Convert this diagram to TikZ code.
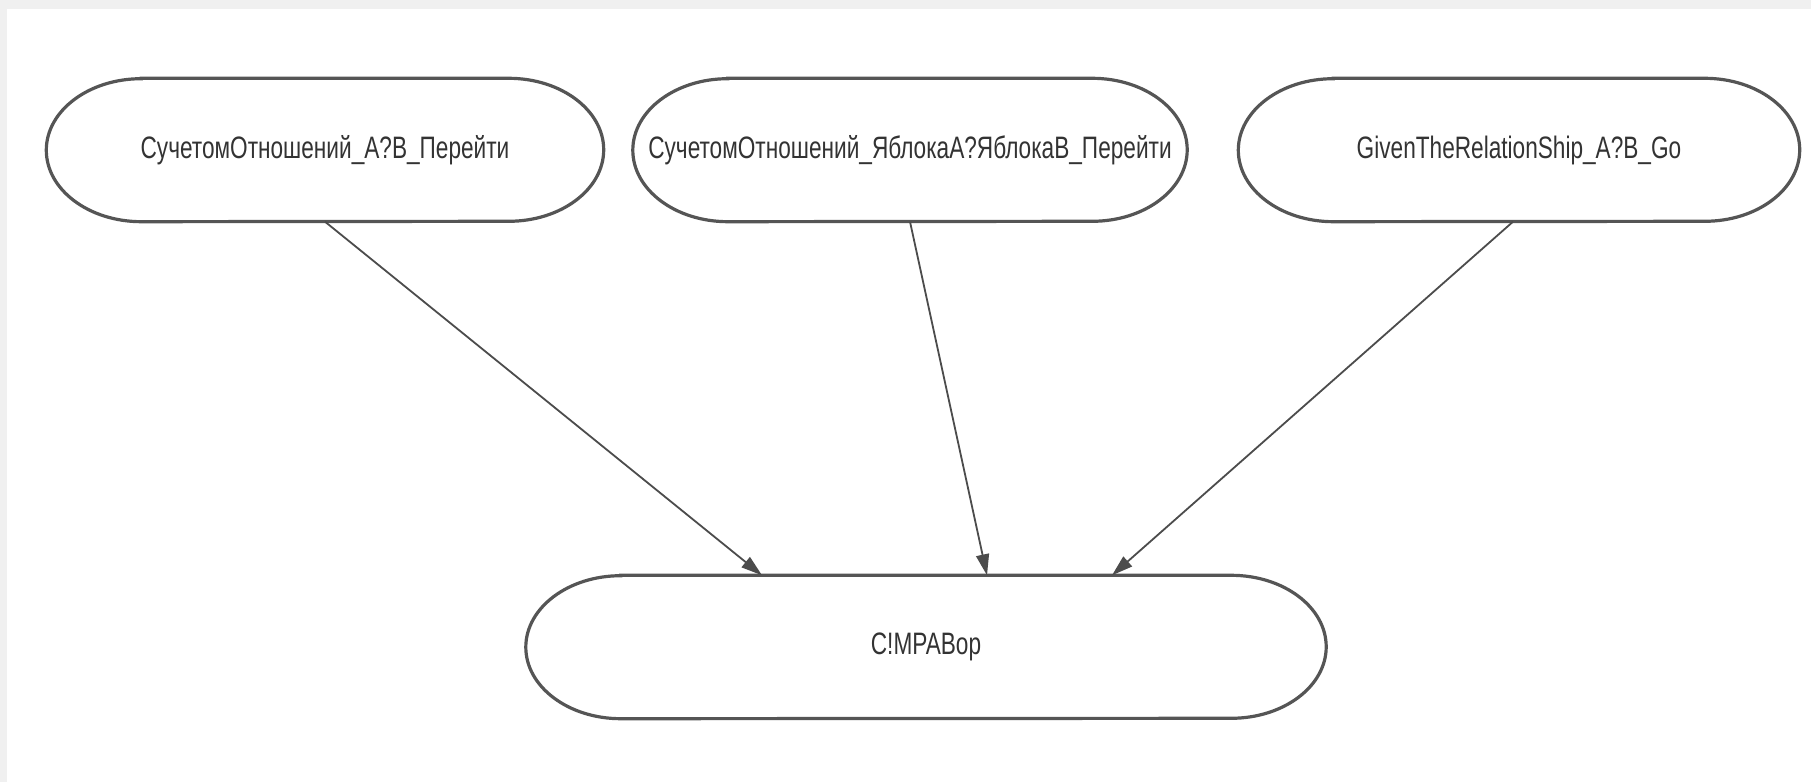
\documentclass[tikz,border=0pt]{standalone}
\usepackage{fontspec}
\setmainfont{Liberation Sans}
\newfontfamily\narrowfont[FakeStretch=0.73]{Liberation Sans}
\usetikzlibrary{arrows.meta,calc}
\definecolor{edgegray}{HTML}{555555}
\definecolor{txtgray}{HTML}{333333}
\definecolor{bggray}{HTML}{F0F0F0}
\newcommand\capw{95pt}
\newcommand\halfh{71.5pt}
\newcommand\stadium[1]{\draw[shapeline] ([xshift=\capw]#1.north west) -- ([xshift=-\capw]#1.north east) arc[start angle=90,end angle=-90,x radius=\capw,y radius=\halfh] -- ([xshift=\capw]#1.south west) arc[start angle=270,end angle=90,x radius=\capw,y radius=\halfh] -- cycle;}
\tikzset{
  stad/.style={draw=none, minimum width=#1, minimum height=143pt, inner sep=0pt, font=\narrowfont\fontsize{31}{33}\selectfont, text=txtgray},
  shapeline/.style={draw=edgegray, line width=3.2pt, fill=white},
  conn/.style={draw=edgegray!90!black, line width=1.8pt, -{Triangle[length=21pt,width=13pt]}}
}
\begin{document}
\begin{tikzpicture}[x=1pt,y=1pt]
\useasboundingbox (0,0) rectangle (1811,782);
\fill[bggray] (0,0) rectangle (1811,782);
\fill[white] (7,0) rectangle (1811,773);
\node[stad=557pt] (a) at (325,632) {};
\node[stad=554pt] (b) at (910,632) {};
\node[stad=561pt] (c) at (1519,632) {};
\node[stad=800pt] (d) at (926,135) {};
\stadium{a}\stadium{b}\stadium{c}\stadium{d}
\node[stad=557pt] at (a) {СучетомОтношений\_A?B\_Перейти};
\node[stad=554pt] at (b) {СучетомОтношений\_ЯблокаA?ЯблокаB\_Перейти};
\node[stad=561pt] at (c) {GivenTheRelationShip\_A?B\_Go};
\node[stad=800pt] at (d) {C!MPABop};
\draw[conn] (a.south) -- ([xshift=-164pt]d.north);
\draw[conn] (b.south) -- ([xshift=61pt]d.north);
\draw[conn] ([xshift=-6pt]c.south) -- ([xshift=186pt]d.north);
\end{tikzpicture}
\end{document}
